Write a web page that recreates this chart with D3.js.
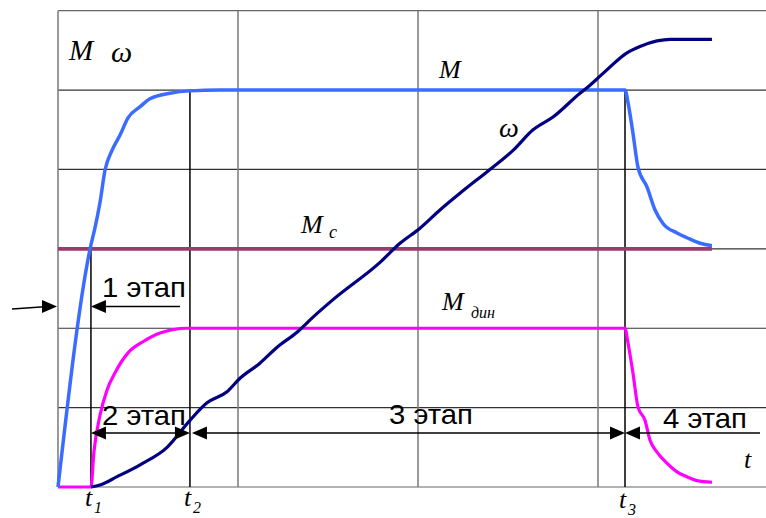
<!DOCTYPE html>
<html>
<head>
<meta charset="utf-8">
<script src="https://cdn.jsdelivr.net/npm/d3@7/dist/d3.min.js"></script>
<style>
  html, body { margin: 0; padding: 0; background: #fff; }
  svg { display: block; }
  .it { font-family: "Liberation Serif", "Times New Roman", serif; font-style: italic; }
  .st { font-family: "Liberation Sans", Arial, sans-serif; }
</style>
</head>
<body>
<svg id="chart" width="766" height="518"></svg>
<script>
// Grid divisions (time and level units)
const timeGrid = [0, 1, 2, 3, 4];
const levelGrid = [0, 1, 2, 3, 4, 5, 6];

// Stage boundary instants t1, t2, t3 and the end of the run
const tMarks = [0.183, 0.733, 3.15];
const tMarkNames = ["1", "2", "3"];
const tEnd = 3.633;

// Motor torque M
const mT = [0, 0.183, 0.206, 0.233, 0.261, 0.3, 0.344, 0.389, 0.456, 0.511, 0.622, 0.733, 0.9,
            3.15, 3.167, 3.194, 3.222, 3.272, 3.317, 3.361, 3.439, 3.494, 3.567, 3.633];
const mV = [0, 3.05, 3.27, 3.58, 3.99, 4.24, 4.43, 4.65, 4.79, 4.89, 4.96, 4.99, 5.0,
            5.0, 4.84, 4.46, 4.03, 3.78, 3.49, 3.32, 3.2, 3.14, 3.07, 3.04];

// Load torque Mc
const mcT = [0, 3.633];
const mcV = [3, 3];

// Dynamic torque Mдин
const dT = [0, 0.183, 0.2, 0.233, 0.272, 0.317, 0.389, 0.472, 0.567, 0.717,
            3.15, 3.167, 3.194, 3.222, 3.261, 3.289, 3.328, 3.383, 3.439, 3.494, 3.55, 3.633];
const dV = [0, 0, 0.45, 0.9, 1.22, 1.44, 1.69, 1.83, 1.94, 2.0,
            2.0, 1.81, 1.44, 1.01, 0.84, 0.59, 0.44, 0.30, 0.19, 0.13, 0.08, 0.06];

// Angular speed ω
const wT = [0.183, 0.233, 0.328, 0.456, 0.606, 0.733, 0.828, 0.939, 1.011, 1.122, 1.217, 1.328,
            1.417, 1.528, 1.789, 1.9, 2.011, 2.122, 2.233, 2.344, 2.417, 2.528, 2.639, 2.75,
            2.9, 2.939, 3.028, 3.161, 3.233, 3.328, 3.4, 3.633];
const wV = [0, 0.025, 0.13, 0.28, 0.5, 0.84, 1.06, 1.2, 1.37, 1.56, 1.76, 1.95,
            2.14, 2.36, 2.83, 3.07, 3.26, 3.49, 3.7, 3.9, 4.03, 4.24, 4.5, 4.66,
            4.96, 5.03, 5.21, 5.47, 5.55, 5.62, 5.64, 5.64];

// Stage names
const stageNames = ["1 этап", "2 этап", "3 этап", "4 этап"];

const W = 766, H = 518;
const svg = d3.select("#chart");
const x = d3.scaleLinear().domain([0, 4]).range([58, 778]);
const y = d3.scaleLinear().domain([0, 6]).range([487, 10.7]);

// grid
const grid = svg.append("g");
grid.selectAll("line.h").data(levelGrid).join("line")
  .attr("x1", x(0)).attr("x2", W)
  .attr("y1", d => y(d)).attr("y2", d => y(d))
  .attr("stroke", d => (d === 0 || d === 6) ? "#666" : "#333")
  .attr("stroke-width", 1.2);
grid.selectAll("line.v").data(timeGrid.filter(d => x(d) < W)).join("line")
  .attr("x1", d => x(d)).attr("x2", d => x(d))
  .attr("y1", y(6)).attr("y2", y(0))
  .attr("stroke", "#808080").attr("stroke-width", 1.6);

// stage boundary lines
const markTop = [y(3) - 4, y(5), y(5)];
svg.append("g").selectAll("line").data(tMarks).join("line")
  .attr("x1", d => x(d)).attr("x2", d => x(d))
  .attr("y1", (d, i) => markTop[i]).attr("y2", y(0))
  .attr("stroke", "#000").attr("stroke-width", 1.5);

const zip = (a, b) => a.map((v, i) => [v, b[i]]);

function curve(ts, vs, color, w, shape) {
  const line = d3.line().x(d => x(d[0])).y(d => y(d[1])).curve(shape);
  svg.append("path").datum(zip(ts, vs))
    .attr("d", line).attr("fill", "none")
    .attr("stroke", color).attr("stroke-width", w)
    .attr("stroke-linejoin", "round").attr("stroke-linecap", "butt");
}
curve(mcT, mcV, "#9b3a6b", 3.6, d3.curveLinear);
curve(dT, dV, "#ff00ff", 3.2, d3.curveMonotoneX);
curve(mT, mV, "#3a6cff", 3.5, d3.curveMonotoneX);
curve(wT, wV, "#000080", 3.2, d3.curveMonotoneX);

// arrows
function head(tipX, tipY, dir) {
  const L = 15, h = 6.5;
  svg.append("path")
    .attr("d", `M${tipX},${tipY} L${tipX - dir * L},${tipY - h} L${tipX - dir * L},${tipY + h} Z`)
    .attr("fill", "#000");
}
function seg(x1, y1, x2, y2) {
  svg.append("line").attr("x1", x1).attr("y1", y1).attr("x2", x2).attr("y2", y2)
    .attr("stroke", "#000").attr("stroke-width", 1.6);
}
const rowA = 306.5, rowB = 433;
const [p1, p2, p3] = tMarks.map(x);
// stage 1: inward arrows from outside
seg(12, rowA + 2.5, x(0) - 10, rowA);
head(x(0) - 1, rowA, 1);
seg(p1 + 10, rowA, 180, rowA);
head(p1, rowA, -1);
// stage 2
seg(p1 + 10, rowB, p2 - 10, rowB);
head(p1, rowB, -1); head(p2, rowB, 1);
// stage 3
seg(p2 + 12, rowB, p3 - 10, rowB);
head(p2 + 2, rowB, -1); head(p3, rowB, 1);
// stage 4
seg(p3 + 10, rowB, 760, rowB);
head(p3, rowB, -1);

// stage labels
const stPos = [[102, 297], [102, 425], [389, 424], [663, 428]];
svg.append("g").selectAll("text").data(stageNames).join("text")
  .attr("class", "st").attr("font-size", 28).attr("fill", "#000")
  .attr("x", (d, i) => stPos[i][0]).attr("y", (d, i) => stPos[i][1])
  .attr("textLength", 84).attr("lengthAdjust", "spacingAndGlyphs")
  .text(d => d);

// italic symbol labels
function it(txt, px, py, size) {
  svg.append("text").attr("class", "it").attr("x", px).attr("y", py)
    .attr("font-size", size).attr("fill", "#000").text(txt);
}
it("M", 69, 60, 29);
it("ω", 111, 62, 30);
it("M", 439, 78, 26);
it("ω", 499, 137, 28);
it("M", 301, 233, 26);
it("c", 329, 238, 18);
it("M", 442, 310, 26);
it("дин", 471, 318, 16);
it("t", 744, 468, 26);

// t1, t2, t3 under the axis
const tLabY = [506, 506, 508];
tMarks.forEach((d, i) => {
  it("t", x(d) - 6, tLabY[i], 26);
  it(tMarkNames[i], x(d) + 3, tLabY[i] + 7, 16);
});
</script>
</body>
</html>
